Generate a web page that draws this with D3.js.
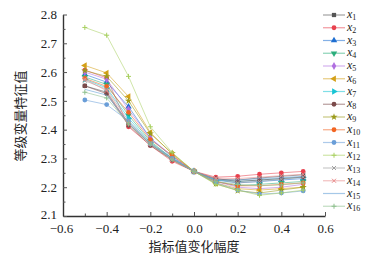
<!DOCTYPE html>
<html>
<head>
<meta charset="utf-8">
<script src="https://cdn.jsdelivr.net/npm/d3@7"></script>
<style>
  body { margin: 0; background: #fff; }
  svg { display: block; }
</style>
</head>
<body>
<div id="chart"></div>
<script>
// x values of the index change and series readings
const steps = [-0.5, -0.4, -0.3, -0.2, -0.1, 0, 0.1, 0.2, 0.3, 0.4, 0.5];
const names = ["1","2","3","4","5","6","7","8","9","10","11","12","13","14","15","16"];
const x1  = [2.552, 2.530, 2.420, 2.350, 2.295, 2.255, 2.228, 2.225, 2.232, 2.238, 2.243];
const x2  = [2.607, 2.580, 2.410, 2.345, 2.290, 2.255, 2.235, 2.238, 2.245, 2.250, 2.255];
const x3  = [2.592, 2.565, 2.480, 2.370, 2.305, 2.255, 2.225, 2.215, 2.220, 2.225, 2.230];
const x4  = [2.583, 2.557, 2.450, 2.360, 2.300, 2.255, 2.220, 2.205, 2.210, 2.215, 2.220];
const x5  = [2.600, 2.575, 2.470, 2.370, 2.310, 2.255, 2.220, 2.200, 2.195, 2.200, 2.210];
const x6  = [2.623, 2.597, 2.515, 2.390, 2.315, 2.255, 2.215, 2.195, 2.190, 2.195, 2.200];
const x7  = [2.575, 2.545, 2.440, 2.355, 2.300, 2.255, 2.225, 2.220, 2.225, 2.230, 2.235];
const x8  = [2.552, 2.525, 2.415, 2.345, 2.295, 2.255, 2.230, 2.220, 2.225, 2.230, 2.235];
const x9  = [2.605, 2.585, 2.500, 2.386, 2.318, 2.255, 2.212, 2.188, 2.180, 2.190, 2.200];
const x10 = [2.578, 2.550, 2.460, 2.365, 2.310, 2.255, 2.220, 2.205, 2.205, 2.210, 2.215];
const x11 = [2.503, 2.487, 2.430, 2.350, 2.300, 2.255, 2.215, 2.190, 2.176, 2.180, 2.187];
const x12 = [2.755, 2.728, 2.585, 2.410, 2.320, 2.255, 2.210, 2.190, 2.172, 2.180, 2.190];
const x13 = [2.570, 2.540, 2.430, 2.355, 2.300, 2.255, 2.228, 2.215, 2.220, 2.228, 2.235];
const x14 = [2.575, 2.535, 2.420, 2.350, 2.295, 2.255, 2.232, 2.230, 2.235, 2.240, 2.245];
const x15 = [2.540, 2.520, 2.425, 2.350, 2.300, 2.255, 2.225, 2.225, 2.230, 2.233, 2.238];
const x16 = [2.530, 2.510, 2.420, 2.350, 2.295, 2.255, 2.220, 2.210, 2.205, 2.208, 2.215];
const allValues = [x1, x2, x3, x4, x5, x6, x7, x8, x9, x10, x11, x12, x13, x14, x15, x16];
const xTicks = [-0.6, -0.4, -0.2, 0, 0.2, 0.4, 0.6];
const yTicks = [2.1, 2.2, 2.3, 2.4, 2.5, 2.6, 2.7, 2.8];

const colors = ["#555555", "#e8414e", "#1f6fd1", "#2bae7c", "#b06fe0", "#d4a017", "#18c4d4", "#7b4a4a",
                "#9a9a1a", "#f26522", "#6a9ed8", "#a8d060", "#a0a0a0", "#e88a8a", "#5b9bd5", "#8cbf8c"];
const shapes = ["square", "circle", "tup", "tdown", "diamond", "tleft", "tright", "circle",
                "star", "circle", "circle", "plus", "cross", "cross", null, "plus"];

const width = 376, height = 258,
      margin = ({ top: 14.5, right: 51, bottom: 42, left: 63 });

const svg = d3.select("#chart").append("svg")
    .attr("width", width).attr("height", height);

const x = d3.scaleLinear().domain([-0.6, 0.6]).range([margin.left, width - margin.right]);
const y = d3.scaleLinear().domain([2.1, 2.8]).range([height - margin.bottom, margin.top]);

const serif = "'Liberation Serif', 'DejaVu Serif', serif";
const cjk = "'Noto Sans CJK SC', sans-serif";

// axes with inward ticks
const xAxis = svg.append("g")
    .attr("transform", `translate(0,${y(2.1)})`)
    .call(d3.axisBottom(x).tickValues(xTicks).tickSizeInner(-4).tickSizeOuter(0)
        .tickFormat(d => d3.format(".1f")(d).replace("-", "\u2212")));
xAxis.selectAll(".tick text").attr("y", 8).attr("dy", "0.71em");
xAxis.selectAll(".tick").filter(d => d === -0.6).select("text").attr("dx", -2);

svg.append("g")
    .attr("transform", `translate(0,${y(2.1)})`)
    .call(d3.axisBottom(x).tickValues([-0.5, -0.3, -0.1, 0.1, 0.3, 0.5]).tickSize(-2.5).tickFormat(""))
    .call(g => g.select(".domain").remove());

const yAxis = svg.append("g")
    .attr("transform", `translate(${x(-0.6)},0)`)
    .call(d3.axisLeft(y).tickValues(yTicks).tickSizeInner(-4).tickSizeOuter(0).tickFormat(d3.format(".1f")));
yAxis.selectAll(".tick text").attr("x", -6);
yAxis.selectAll(".tick").filter(d => d === 2.1).select("text").attr("dy", "0.2em");

svg.append("g")
    .attr("transform", `translate(${x(-0.6)},0)`)
    .call(d3.axisLeft(y).tickValues([2.15, 2.25, 2.35, 2.45, 2.55, 2.65, 2.75]).tickSize(-2.5).tickFormat(""))
    .call(g => g.select(".domain").remove());

svg.selectAll(".domain").attr("stroke", "#333").attr("stroke-width", 1.4);
svg.selectAll(".tick line").attr("stroke", "#555");
svg.selectAll(".tick text").attr("font-family", serif).attr("font-size", 13).attr("fill", "#222");

// marker drawing
function marker(sel, shape, color) {
    if (shape === null) return;
    if (shape === "plus" || shape === "cross") {
        sel.append("path")
            .attr("d", shape === "plus" ? "M-2.5,0H2.5M0,-2.5V2.5" : "M-2,-2L2,2M-2,2L2,-2")
            .attr("stroke", color).attr("stroke-width", 1).attr("fill", "none");
        return;
    }
    const map = { square: d3.symbolSquare, circle: d3.symbolCircle, diamond: d3.symbolDiamond,
                  star: d3.symbolStar, tup: d3.symbolTriangle, tdown: d3.symbolTriangle,
                  tleft: d3.symbolTriangle, tright: d3.symbolTriangle };
    const rot = { tdown: 180, tleft: -90, tright: 90 }[shape] || 0;
    sel.append("path")
        .attr("d", d3.symbol(map[shape], shape === "star" ? 16 : 18)())
        .attr("transform", `rotate(${rot})`)
        .attr("fill", color);
}

const line = d3.line().x((d, i) => x(steps[i])).y(d => y(d));

// series
allValues.forEach((vals, k) => {
    const g = svg.append("g");
    g.append("path")
        .attr("d", line(vals))
        .attr("fill", "none")
        .attr("stroke", colors[k])
        .attr("stroke-opacity", 0.55)
        .attr("stroke-width", 1);
    g.selectAll("g.m").data(vals).join("g")
        .attr("class", "m")
        .attr("transform", (d, i) => `translate(${x(steps[i])},${y(d)})`)
        .each(function () { marker(d3.select(this), shapes[k], colors[k]); });
});

// legend
const legend = svg.append("g").attr("transform", "translate(323,15)");
names.forEach((n, k) => {
    const row = legend.append("g").attr("transform", `translate(0,${k * 12.75})`);
    row.append("line").attr("x1", 0).attr("x2", 22).attr("y1", 0).attr("y2", 0)
        .attr("stroke", colors[k]).attr("stroke-opacity", 0.55).attr("stroke-width", 1.2);
    marker(row.append("g").attr("transform", "translate(11,0)"), shapes[k], colors[k]);
    const t = row.append("text").attr("x", 24).attr("y", 3)
        .attr("font-family", serif).attr("font-size", 12).attr("fill", "#222");
    t.append("tspan").attr("font-style", "italic").text("x");
    t.append("tspan").attr("font-size", 8).attr("dy", 2).text(n);
});

// axis titles
svg.append("text")
    .attr("x", (x(-0.6) + x(0.6)) / 2).attr("y", 251)
    .attr("text-anchor", "middle")
    .attr("font-family", cjk).attr("font-size", 13).attr("fill", "#222")
    .text("指标值变化幅度");

svg.append("text")
    .attr("transform", "translate(25,116) rotate(-90)")
    .attr("text-anchor", "middle")
    .attr("font-family", cjk).attr("font-size", 13).attr("fill", "#222")
    .text("等级变量特征值");
</script>
</body>
</html>
